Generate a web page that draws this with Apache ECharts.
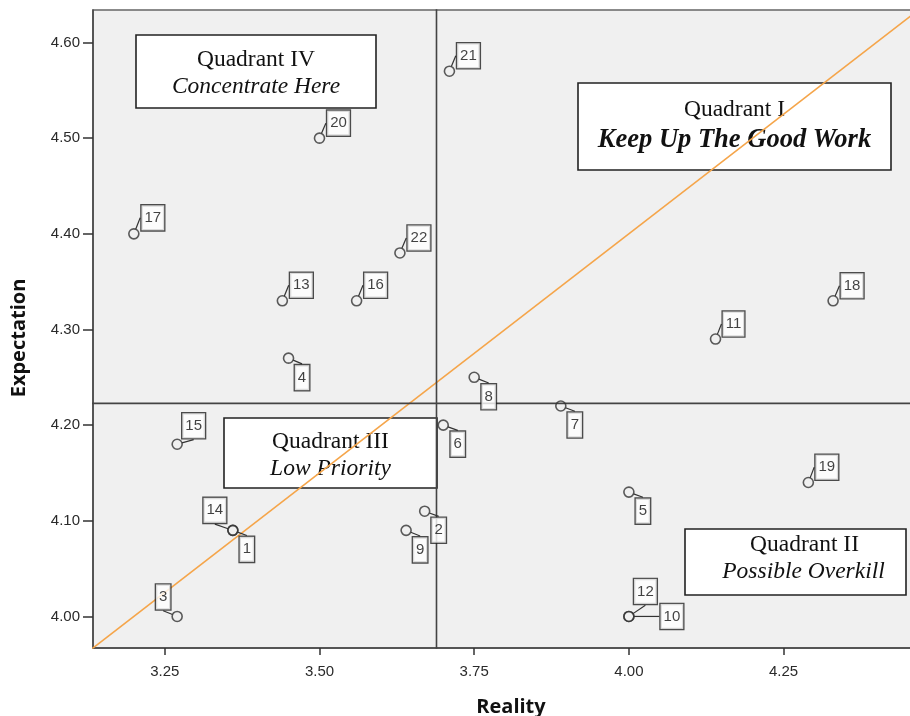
<!DOCTYPE html>
<html>
<head>
<meta charset="utf-8">
<script src="https://cdn.jsdelivr.net/npm/echarts@6/dist/echarts.min.js"></script>
<style>
html,body{margin:0;padding:0;background:#fff;}
#chart{width:910px;height:716px;}
</style>
</head>
<body>
<div id="chart"></div>
<script>
// ---- data ----
const itemIds     = [1, 2, 3, 4, 5, 6, 7, 8, 9, 10, 11, 12, 13, 14, 15, 16, 17, 18, 19, 20, 21, 22];
const reality     = [3.36, 3.67, 3.27, 3.45, 4.00, 3.70, 3.89, 3.75, 3.64, 4.00, 4.14, 4.00, 3.44, 3.36, 3.27, 3.56, 3.20, 4.33, 4.29, 3.50, 3.71, 3.63];
const expectation = [4.09, 4.11, 4.00, 4.27, 4.13, 4.20, 4.22, 4.25, 4.09, 4.00, 4.29, 4.00, 4.33, 4.09, 4.18, 4.33, 4.40, 4.33, 4.14, 4.50, 4.57, 4.38];
const xTicks = [3.25, 3.50, 3.75, 4.00, 4.25];
const yTicks = [4.00, 4.10, 4.20, 4.30, 4.40, 4.50, 4.60];
// diagonal reference line: Expectation = 0.5 * Reality + 2.4
const diagSlope = 0.5, diagIntercept = 2.4;
const diagX = [3.10, 4.50];

// axis extents
const xMin = 3.134, xMax = 4.485;
const yMin = 3.967, yMax = 4.634;

// ---- layout helpers (label offsets in px, styling only) ----
const labelOffsets = [
  [14, 19], [14, 19], [-14, -19.5], [13.5, 19.5], [14, 19], [14.5, 19], [14, 19], [14.5, 19.5],
  [14, 19.5], [43, 0], [18, -15], [16.5, -25], [19, -15.5], [-18, -20], [16.5, -18.5], [19, -15.5],
  [19, -16], [19, -15], [18.5, -15.3], [19, -15], [19, -15.5], [19, -15]
];

const meanX = reality.reduce((a, b) => a + b, 0) / reality.length;
const meanY = expectation.reduce((a, b) => a + b, 0) / expectation.length;

const pts = reality.map((r, i) => [r, expectation[i], itemIds[i]]);
const diagData = diagX.map(x => [x, diagSlope * x + diagIntercept]);
const vMeanData = [[meanX, yMin - 1], [meanX, yMax + 1]];
const hMeanData = [[xMin - 1, meanY], [xMax + 1, meanY]];

const chart = echarts.init(document.getElementById('chart'), null, {renderer: 'canvas'});

const serif = '"Liberation Serif", "Times New Roman", serif';
function quadBox(x, y, w, h, lines) {
  const children = [{
    type: 'rect', shape: {x: 0, y: 0, width: w, height: h},
    style: {fill: '#ffffff', stroke: '#222', lineWidth: 1.6}
  }];
  lines.forEach(l => children.push({
    type: 'text', x: w / 2 + (l.dx || 0), y: l.y,
    style: {text: l.text, font: l.font, fill: '#111', align: 'center', verticalAlign: 'middle'}
  }));
  return {type: 'group', x: x, y: y, z: 100, children: children};
}

const refLine = (data, color) => ({
  type: 'line', data: data, symbol: 'none', silent: true, z: 1,
  lineStyle: {color: color, width: 1.6}
});

const option = {
  animation: false,
  backgroundColor: '#ffffff',
  grid: {
    left: 93, top: 10, right: -19, bottom: 68,
    outerBoundsMode: 'none', containLabel: false,
    show: true, backgroundColor: '#f0f0f0', borderColor: '#666', borderWidth: 1.5
  },
  xAxis: {
    type: 'value', min: xMin, max: xMax,
    name: 'Reality', nameLocation: 'middle', nameGap: 49,
    nameTextStyle: {fontFamily: 'Open Sans', fontWeight: 'bold', fontSize: 20, color: '#111'},
    axisLine: {show: true, onZero: false, lineStyle: {color: '#444', width: 1.5}},
    axisTick: {show: true, length: 7, customValues: xTicks, lineStyle: {color: '#333', width: 1.5}},
    axisLabel: {
      customValues: xTicks, margin: 16, fontFamily: 'Liberation Sans', fontSize: 15, color: '#2a2a2a',
      formatter: v => v.toFixed(2)
    },
    splitLine: {show: false}
  },
  yAxis: {
    type: 'value', min: yMin, max: yMax,
    name: 'Expectation', nameLocation: 'middle', nameGap: 64,
    nameTextStyle: {fontFamily: 'Open Sans', fontWeight: 'bold', fontSize: 20, color: '#111', padding: [0, 18, 0, 0]},
    axisLine: {show: true, onZero: false, lineStyle: {color: '#444', width: 1.5}},
    axisTick: {show: true, length: 10, customValues: yTicks, lineStyle: {color: '#333', width: 1.5}},
    axisLabel: {
      customValues: yTicks, margin: 13, fontFamily: 'Liberation Sans', fontSize: 15, color: '#2a2a2a',
      formatter: v => v.toFixed(2)
    },
    splitLine: {show: false}
  },
  series: [
    refLine(diagData, '#f5a54a'),
    refLine(vMeanData, '#444'),
    refLine(hMeanData, '#444'),
    {
      type: 'scatter', data: pts, symbol: 'circle', symbolSize: 10, z: 3,
      itemStyle: {color: 'rgba(0,0,0,0)', borderColor: '#333', borderWidth: 1.6},
      label: {
        show: true, position: 'inside',
        formatter: p => String(p.value[2]),
        fontFamily: 'Liberation Sans', fontSize: 15, color: '#111',
        backgroundColor: '#ffffff', borderColor: '#222', borderWidth: 1.3,
        padding: [5, 3, 4, 3], lineHeight: 16
      },
      labelLine: {show: true, lineStyle: {color: '#333', width: 1.2}},
      labelLayout: p => ({dx: labelOffsets[p.dataIndex][0], dy: labelOffsets[p.dataIndex][1]})
    }
  ],
  graphic: [
    quadBox(136, 35, 240, 73, [
      {text: 'Quadrant IV', y: 25, font: '23.5px ' + serif},
      {text: 'Concentrate Here', y: 52, font: 'italic 23.5px ' + serif}
    ]),
    quadBox(578, 83, 313, 87, [
      {text: 'Quadrant I', y: 27, font: '23.5px ' + serif},
      {text: 'Keep Up The Good Work', y: 57, font: 'italic bold 26.5px ' + serif}
    ]),
    quadBox(224, 418, 213, 70, [
      {text: 'Quadrant III', y: 24, font: '23.5px ' + serif},
      {text: 'Low Priority', y: 51, font: 'italic 23.5px ' + serif}
    ]),
    quadBox(685, 529, 221, 66, [
      {text: 'Quadrant II', y: 16, dx: 9, font: '23.5px ' + serif},
      {text: 'Possible Overkill', y: 43, dx: 8, font: 'italic 23.5px ' + serif}
    ])
  ]
};
chart.setOption(option);
</script>
</body>
</html>
